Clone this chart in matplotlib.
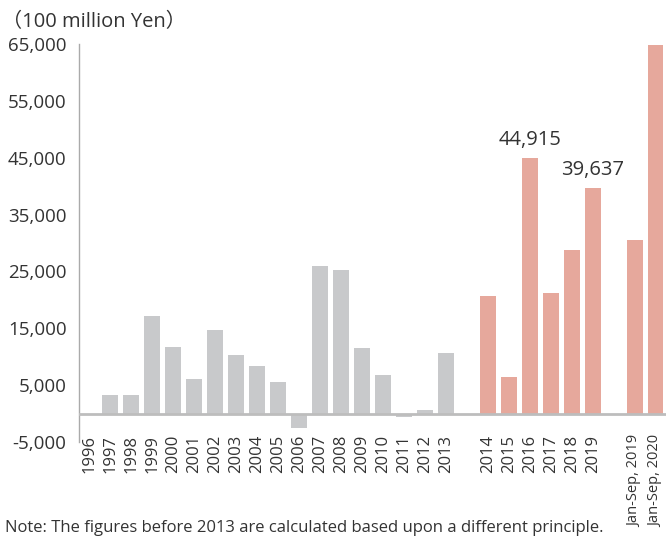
import matplotlib
matplotlib.use("Agg")
import matplotlib.pyplot as plt

# Data (100 million Yen)
old_years = [str(y) for y in range(1996, 2014)]
old_values = [0, 3300, 3300, 17200, 11700, 6100, 14700, 10300, 8400, 5500,
              -2500, 26000, 25300, 11500, 6800, -600, 600, 10600]

new_years = [str(y) for y in range(2014, 2020)]
new_values = [20700, 6400, 44915, 21200, 28800, 39637]

ytd_labels = ["Jan-Sep, 2019", "Jan-Sep, 2020"]
ytd_values = [30500, 64900]

annotated = {"2016": "44,915", "2019": "39,637"}

y_ticks = [-5000, 5000, 15000, 25000, 35000, 45000, 55000, 65000]

GRAY = "#c8c9cb"
PINK = "#e6a89c"
TEXT = "#333333"
FONT = ["Open Sans", "Noto Sans CJK JP", "DejaVu Sans"]

plt.rcParams["font.family"] = FONT

# slot positions: one empty slot between groups
old_x = list(range(len(old_years)))
new_x = [len(old_years) + 1 + i for i in range(len(new_years))]
ytd_x = [new_x[-1] + 2 + i for i in range(len(ytd_labels))]

fig = plt.figure(figsize=(6.66, 5.37), dpi=100)
ax = fig.add_axes([79 / 666, 1 - 442 / 537, 1 - 79 / 666, (442 - 44) / 537])

w = 0.76
ax.bar(old_x, old_values, width=w, color=GRAY, zorder=2)
ax.bar(new_x, new_values, width=w, color=PINK, zorder=2)
ax.bar(ytd_x, ytd_values, width=w, color=PINK, zorder=2)

ax.axhline(0, color="#bdbdbd", lw=2, zorder=3)

for x, lab, v in zip(new_x, new_years, new_values):
    if lab in annotated:
        ax.annotate(annotated[lab], (x, v), xytext=(0, 6), textcoords="offset points",
                    ha="center", va="bottom", fontsize=14.5, color=TEXT)

ax.set_xlim(-0.5, ytd_x[-1] + 0.5)
ax.set_ylim(-5000, 65000)
ax.set_yticks(y_ticks)
ax.set_yticklabels([f"{v:,}" for v in y_ticks], fontsize=13.5, color=TEXT)

ax.set_xticks(old_x + new_x + ytd_x)
ax.set_xticklabels(old_years + new_years + ytd_labels, rotation=90,
                   fontsize=12, color=TEXT, va="top")
# the two long labels are a bit smaller so they stay inside the figure
for lbl in ax.get_xticklabels()[-len(ytd_labels):]:
    lbl.set_fontsize(10.5)

ax.tick_params(axis="y", length=0, pad=9)
ax.tick_params(axis="x", length=0, pad=-5)

for side in ["top", "right", "bottom"]:
    ax.spines[side].set_visible(False)
ax.spines["left"].set_color("#aaaaaa")
ax.spines["left"].set_linewidth(1)

fig.text(2 / 666, 1 - 22 / 537, "（100 million Yen）", fontsize=14.5, color=TEXT,
         ha="left", va="center")
fig.text(5 / 666, 1 - 536 / 537,
         "Note: The figures before 2013 are calculated based upon a different principle.",
         fontsize=12, color=TEXT, ha="left", va="bottom")

fig.savefig("out.png", dpi=100)
